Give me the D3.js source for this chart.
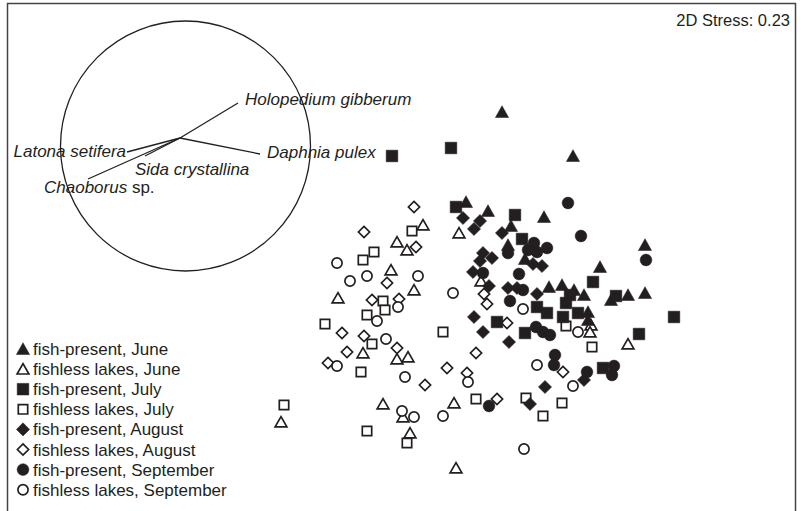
<!DOCTYPE html>
<html>
<head>
<meta charset="utf-8">
<script src="https://cdn.jsdelivr.net/npm/d3@7"></script>
<style>
  body { margin: 0; background: #fff; }
  text { font-family: "Liberation Sans", Arial, sans-serif; fill: #231f20; }
</style>
</head>
<body>
<div id="chart"></div>
<script>
// NMDS scores per group (x = axis 1, y = axis 2)
const fishJune = [[0.50,0.715],[0.855,0.495],[0.32,0.265],[0.43,0.22],[0.71,0.19],[0.545,0.145],[0.53,0.05],[0.615,-0.02],[1.215,0.05],[0.99,-0.06],[0.735,-0.16],[0.80,-0.15],[0.86,-0.175],[0.91,-0.20],[1.045,-0.225],[1.13,-0.20],[1.215,-0.19],[0.93,-0.285],[0.93,-0.325]];
const fishlessJune = [[0.105,0.15],[-0.025,0.065],[0.025,0.025],[-0.055,-0.075],[0.06,-0.175],[0.285,0.11],[0.395,-0.13],[-0.32,-0.215],[-0.025,-0.52],[0.03,-0.51],[-0.195,-0.49],[0.945,-0.35],[0.94,-0.385],[1.13,-0.445],[-0.095,-0.745],[0.005,-0.81],[0.04,-0.89],[0.26,-0.74],[-0.605,-0.835],[0.27,-1.065]];
const fishJuly = [[-0.05,0.495],[0.245,0.535],[0.27,0.24],[0.565,0.20],[0.60,0.08],[0.955,-0.135],[1.07,-0.205],[0.84,-0.20],[0.675,-0.26],[0.725,-0.29],[0.82,-0.24],[0.88,-0.29],[0.805,-0.31],[0.475,-0.335],[0.615,-0.39],[1.36,-0.31],[1.185,-0.395],[1.005,-0.565]];
const fishlessJuly = [[0.05,0.12],[-0.14,0.015],[-0.195,-0.025],[-0.095,-0.23],[-0.085,-0.275],[-0.175,-0.30],[-0.385,-0.345],[-0.15,-0.445],[-0.205,-0.585],[0.205,-0.385],[0.82,-0.355],[0.95,-0.46],[-0.59,-0.75],[-0.175,-0.88],[0.025,-0.94],[0.37,-0.72],[0.62,-0.715],[0.80,-0.74],[0.705,-0.805]];
const fishAugust = [[0.305,0.185],[0.39,0.17],[0.36,0.13],[0.50,0.11],[0.405,0.01],[0.45,-0.015],[0.39,-0.03],[0.655,-0.045],[0.70,-0.055],[0.355,-0.085],[0.435,-0.155],[0.53,-0.165],[0.575,-0.165],[0.675,-0.195],[0.36,-0.31],[0.405,-0.385],[0.535,-0.435],[0.715,-0.66],[0.91,-0.625],[0.64,-0.745]];
const fishlessAugust = [[0.06,0.24],[-0.19,0.115],[0.07,0.04],[-0.075,-0.14],[-0.15,-0.225],[-0.015,-0.22],[-0.30,-0.39],[-0.19,-0.405],[-0.025,-0.465],[-0.275,-0.485],[-0.37,-0.54],[0.115,-0.65],[0.225,-0.565],[0.325,-0.59],[0.41,-0.195],[0.425,-0.245],[0.525,-0.34],[0.37,-0.49],[0.805,-0.585],[0.475,-0.72]];
const fishSeptember = [[0.83,0.26],[0.895,0.095],[1.22,-0.025],[0.66,0.06],[0.725,0.035],[0.63,0.025],[0.675,0.015],[0.53,0.01],[0.585,-0.095],[0.405,-0.09],[0.605,-0.175],[0.54,-0.23],[0.67,-0.36],[0.705,-0.385],[0.74,-0.40],[0.765,-0.50],[0.76,-0.55],[1.06,-0.555],[1.05,-0.60],[0.925,-0.585],[0.435,-0.755]];
const fishlessSeptember = [[-0.325,-0.04],[-0.175,-0.105],[-0.26,-0.13],[0.08,-0.105],[0.255,-0.19],[-0.02,-0.26],[-0.125,-0.33],[-0.08,-0.42],[-0.325,-0.555],[0.015,-0.61],[0.33,-0.635],[0.605,-0.27],[0.88,-0.385],[0.675,-0.55],[0.855,-0.655],[0,-0.78],[0.06,-0.81],[0.205,-0.805],[0.61,-0.97]];

const groupLabels = ["fish-present, June", "fishless lakes, June", "fish-present, July", "fishless lakes, July",
  "fish-present, August", "fishless lakes, August", "fish-present, September", "fishless lakes, September"];
const groupShapes = ["triangle", "triangle", "square", "square", "diamond", "diamond", "circle", "circle"];
const groupFilled = [true, false, true, false, true, false, true, false];
const groupData = [fishJune, fishlessJune, fishJuly, fishlessJuly, fishAugust, fishlessAugust, fishSeptember, fishlessSeptember];

// species vectors (correlation circle units)
const vectorNames = ["Holopedium gibberum", "Daphnia pulex", "Latona setifera", "Sida crystallina", "Chaoborus"];
const vectorOrigin = [-0.044, 0.064];
const vectorEnds = [[0.42, 0.344], [0.596, -0.064], [-0.468, -0.048], [-0.324, -0.08], [-0.78, -0.264]];
const stressText = "2D Stress: 0.23";

const W = 801, H = 511;
const ink = "#231f20";

const svg = d3.select("#chart").append("svg")
    .attr("width", W).attr("height", H);

const x = d3.scaleLinear().domain([-1.97, 1.97]).range([8, 796]);
const y = d3.scaleLinear().domain([-1.265, 1.26]).range([508, 3]);

// frame
svg.append("rect")
    .attr("x", 7.5).attr("y", 3.5)
    .attr("width", 788).attr("height", 520)
    .attr("fill", "none").attr("stroke", "#444").attr("stroke-width", 1.5);

svg.append("text")
    .attr("x", 790).attr("y", 26)
    .attr("text-anchor", "end")
    .style("font-size", "16.5px")
    .text(stressText);

// marker path builder
function shapePath(shape, filled) {
    if (shape === "triangle") {
        return filled ? "M0,-6.3L6.6,5.5L-6.6,5.5Z" : "M0,-5.4L5.9,4.9L-5.9,4.9Z";
    }
    if (shape === "square") {
        return filled ? "M-5.8,-5.8H5.8V5.8H-5.8Z" : "M-4.7,-4.7H4.7V4.7H-4.7Z";
    }
    if (shape === "diamond") {
        return filled ? "M0,-6.6L6.6,0L0,6.6L-6.6,0Z" : "M0,-5.6L5.6,0L0,5.6L-5.6,0Z";
    }
    const r = filled ? 5.9 : 5.1;
    return d3.path().arc ? (() => { const p = d3.path(); p.moveTo(r, 0); p.arc(0, 0, r, 0, 2 * Math.PI); p.closePath(); return p.toString(); })() : "";
}

function styleMarker(sel, i) {
    sel.attr("d", shapePath(groupShapes[i], groupFilled[i]))
        .attr("fill", groupFilled[i] ? ink : "#fff")
        .attr("stroke", ink)
        .attr("stroke-width", groupFilled[i] ? 0.5 : 1.7);
}

// points (open symbols first, filled symbols on top)
const drawOrder = [1, 3, 5, 7, 0, 2, 4, 6];
drawOrder.forEach(i => {
    svg.append("g").selectAll("path")
        .data(groupData[i])
        .enter().append("path")
        .attr("transform", d => "translate(" + x(d[0]) + "," + y(d[1]) + ")")
        .call(styleMarker, i);
});

// vector overlay circle
const cx = d3.scaleLinear().domain([-1, 1]).range([60.5, 310.5]);
const cy = d3.scaleLinear().domain([-1, 1]).range([271, 21]);

svg.append("circle")
    .attr("cx", cx(0)).attr("cy", cy(0))
    .attr("r", cx(1) - cx(0))
    .attr("fill", "none").attr("stroke", ink).attr("stroke-width", 1.3);

svg.append("g").selectAll("line")
    .data(vectorEnds)
    .enter().append("line")
    .attr("x1", cx(vectorOrigin[0])).attr("y1", cy(vectorOrigin[1]))
    .attr("x2", d => cx(d[0])).attr("y2", d => cy(d[1]))
    .attr("stroke", ink).attr("stroke-width", 1.3);

// label placement relative to vector tips
const labelOffsets = [[7, 1.5, "start"], [7, 4, "start"], [-1, 5, "end"], [-10, 19, "start"], [-44, 14, "start"]];
const labels = svg.append("g").selectAll("text")
    .data(vectorEnds)
    .enter().append("text")
    .attr("x", (d, i) => cx(d[0]) + labelOffsets[i][0])
    .attr("y", (d, i) => cy(d[1]) + labelOffsets[i][1])
    .attr("text-anchor", (d, i) => labelOffsets[i][2])
    .style("font-size", "17px")
    .style("font-style", "italic");
labels.append("tspan").text((d, i) => vectorNames[i]);
labels.filter((d, i) => i === 4).append("tspan")
    .style("font-style", "normal")
    .text(" sp.");

// legend
const legend = svg.append("g");
groupLabels.forEach((label, i) => {
    const ly = 349 + i * 20.1;
    legend.append("path")
        .attr("transform", "translate(23," + ly + ")")
        .call(styleMarker, i);
    legend.append("text")
        .attr("x", 33).attr("y", ly + 6)
        .style("font-size", "17px")
        .text(label);
});
</script>
</body>
</html>
